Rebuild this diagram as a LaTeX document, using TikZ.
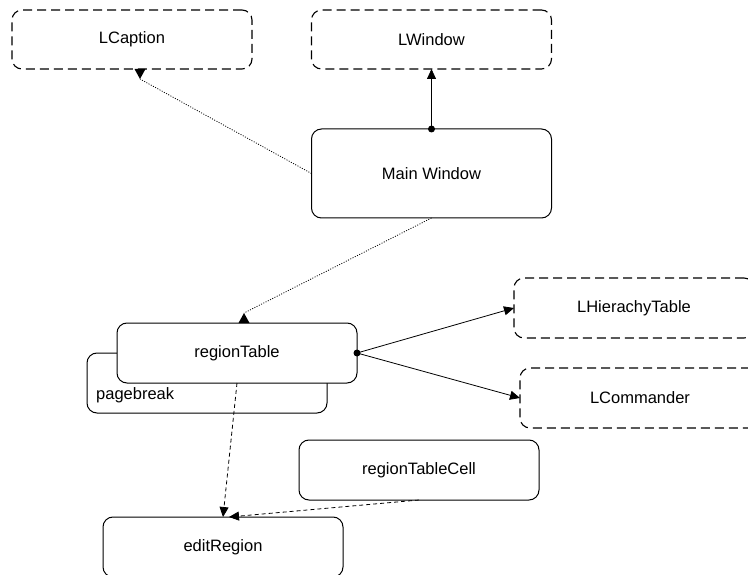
\documentclass[tikz,border=0pt]{standalone}
\usepackage{fontspec}
\setmainfont{Liberation Sans}
\usetikzlibrary{arrows.meta,calc}
\begin{document}
\begin{tikzpicture}[x=1pt,y=-1pt,
  box/.style={draw, rounded corners=10pt, minimum width=240pt, minimum height=60pt,
    line width=1pt, fill=white, inner sep=0pt, outer sep=0pt,
    font=\fontsize{16.5}{20}\selectfont},
  extbox/.style={box, line width=1.1pt, dash pattern=on 9pt off 5pt},
  tip/.style={-{Triangle[length=10pt,width=9pt]}},
  solidline/.style={line width=0.8pt, tip},
  dotline/.style={line width=0.8pt, dash pattern=on 1pt off 1.5pt},
  dashline/.style={line width=0.8pt, dash pattern=on 4pt off 3pt, tip},
  dotend/.style={fill=black}
]
\useasboundingbox (0,0) rectangle (748,575);

% external classes
\node[extbox, minimum height=59pt] (cap)  at (132,39.5)  {LCaption};
\node[extbox, minimum height=59pt] (lwin) at (431.5,39.5) {LWindow};
\node[extbox] (hier) at (634,308) {LHierachyTable};
\node[extbox] (cmd)  at (640,398) {LCommander};

% main window
\node[box, minimum height=89pt] (main) at (431.5,173.5) {Main Window};

% region table with its page break sheet behind
\node[box] (pb) at (207,383) {};
\node[anchor=west, inner sep=0pt, font=\fontsize{16.5}{20}\selectfont] (pbtext) at ($(pb.west)+(9,12)$) {pagebreak};
\node[box] (rt) at (237,353) {regionTable};

\node[box] (cell) at (419,470) {regionTableCell};
\node[box] (edit) at (223,547) {editRegion};

% main window -> LWindow
\draw[solidline] (main.north) -- (lwin.south);
\fill[dotend] (main.north) circle[radius=3.5pt];

% main window -> LCaption
\draw[dotline] (main.west) -- ($(cap.south)+(8,10)$);
\fill ($(cap.south)+(8,10)$) -- ($(cap.south)+(2.5,0)$) -- ($(cap.south)+(13.5,0)$) -- cycle;

% main window -> regionTable
\draw[dotline] (main.south) -- ($(rt.north)+(7,-10)$);
\fill ($(rt.north)+(7,-10)$) -- ($(rt.north)+(1.5,0)$) -- ($(rt.north)+(12.5,0)$) -- cycle;

% regionTable -> helpers
\draw[solidline] (rt.east) -- (hier.west);
\draw[solidline] (rt.east) -- (cmd.west);
\fill[dotend] (rt.east) circle[radius=3.5pt];

% edit region users
\draw[dashline] (rt.south) -- (edit.north);
\draw[dashline] (cell.south) -- ($(edit.north)+(6,0)$);
\end{tikzpicture}
\end{document}
